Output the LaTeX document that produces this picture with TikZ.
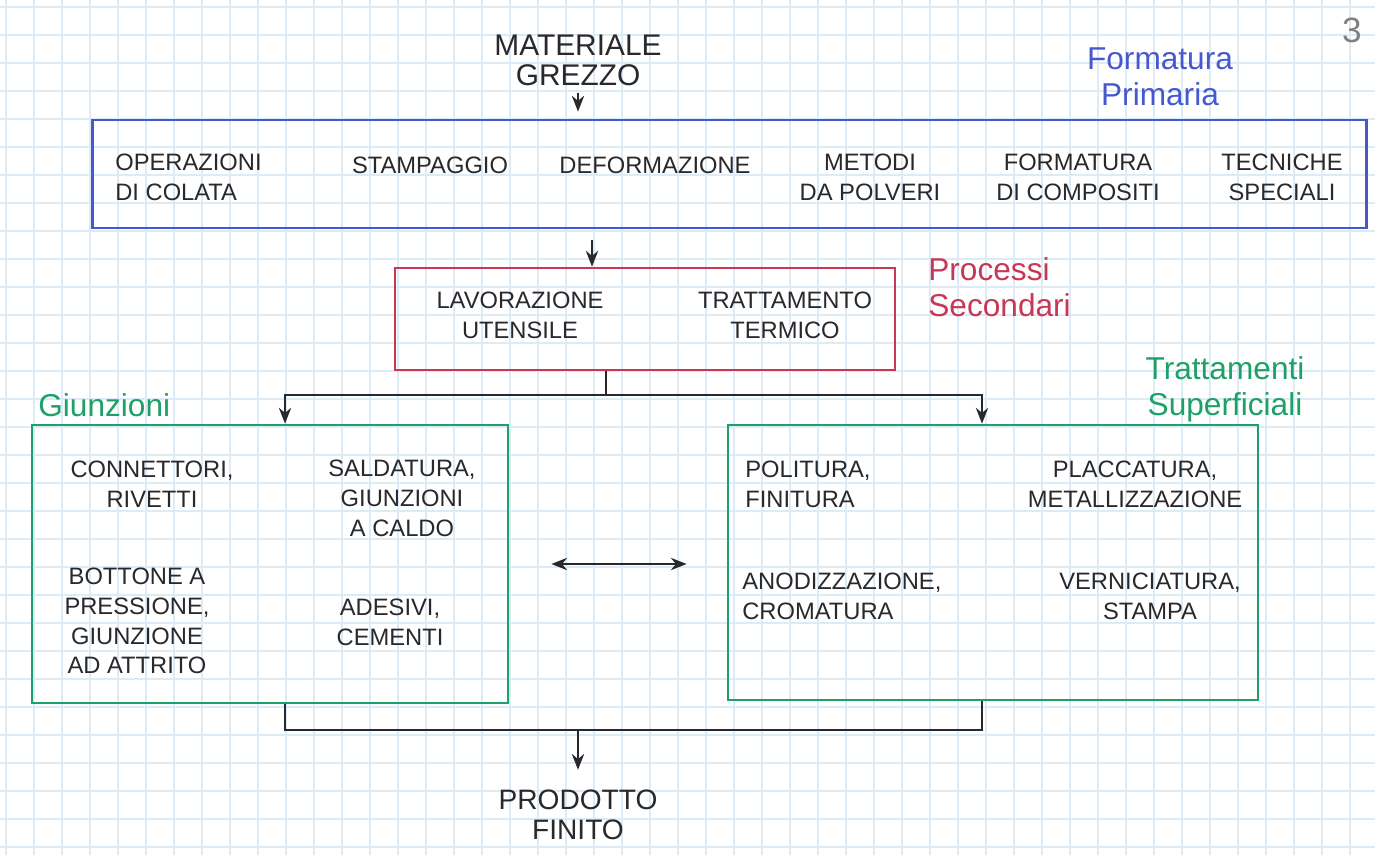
\documentclass[tikz,border=0pt]{standalone}
\usepackage{fontspec}
\setmainfont{Liberation Sans}
\usetikzlibrary{arrows.meta}

\definecolor{inchiostro}{RGB}{40,40,45}
\definecolor{blu}{RGB}{70,88,205}
\definecolor{rosso}{RGB}{200,55,85}
\definecolor{verde}{RGB}{30,160,105}
\definecolor{griglia}{RGB}{220,235,246}

\tikzset{
  voce/.style={text=inchiostro, align=center, inner sep=0pt,
    font=\fontsize{13.5}{17}\selectfont},
  titolo/.style={align=center, inner sep=0pt,
    font=\fontsize{18}{20.5}\selectfont},
  riquadro/.style={draw=#1, line width=1.6pt, inner sep=0pt},
  freccia/.style={draw=inchiostro, line width=1.2pt,
    -{Stealth[length=9pt,width=7pt]}},
  linea/.style={draw=inchiostro, line width=1.2pt},
}

\begin{document}
\begin{tikzpicture}[x=0.02cm, y=-0.02cm]
  \useasboundingbox (0,0) rectangle (1375,855);
  \fill[white] (0,0) rectangle (1375,855);
  % quadretti del foglio
  \foreach \x in {6,34,...,1375}
    \draw[griglia, line width=0.6pt] (\x,0) -- (\x,855);
  \foreach \y in {7,35,...,855}
    \draw[griglia, line width=0.6pt] (0,\y) -- (1375,\y);

  \node[text=gray, font=\fontsize{20}{20}\selectfont] (pagina) at (1352,30) {3};

  % materiale grezzo
  \node[voce, font=\fontsize{17}{17}\selectfont] (materiale) at (578,60) {MATERIALE\\GREZZO};

  % formatura primaria
  \node[titolo, text=blu] (tprimaria) at (1160,77) {Formatura\\Primaria};
  \node[riquadro=blu, minimum width=25.5cm, minimum height=2.16cm] (primaria) at (729.5,174) {};
  \node[voce, align=left, anchor=west] (colata) at (115,177) {OPERAZIONI\\DI COLATA};
  \node[voce] (stampaggio) at (430,165) {STAMPAGGIO};
  \node[voce] (deformazione) at (655,165) {DEFORMAZIONE};
  \node[voce] (polveri) at (870,177) {METODI\\DA POLVERI};
  \node[voce] (compositi) at (1078,177) {FORMATURA\\DI COMPOSITI};
  \node[voce] (speciali) at (1282,177) {TECNICHE\\SPECIALI};

  % processi secondari
  \node[titolo, text=rosso, align=left, anchor=west] (tsecondari) at (928,287) {Processi\\Secondari};
  \node[riquadro=rosso, minimum width=10cm, minimum height=2.04cm] (secondari) at (645,319) {};
  \node[voce] (lavorazione) at (520,315) {LAVORAZIONE\\UTENSILE};
  \node[voce] (termico) at (785,315) {TRATTAMENTO\\TERMICO};

  % giunzioni
  \node[titolo, text=verde, anchor=west] (tgiunzioni) at (38,405) {Giunzioni};
  \node[riquadro=verde, minimum width=9.52cm, minimum height=5.56cm] (giunzioni) at (270,564) {};
  \node[voce] (connettori) at (152,484) {CONNETTORI,\\RIVETTI};
  \node[voce] (saldatura) at (402,498) {SALDATURA,\\GIUNZIONI\\A CALDO};
  \node[voce] (bottone) at (137,621) {BOTTONE A\\PRESSIONE,\\GIUNZIONE\\AD ATTRITO};
  \node[voce] (adesivi) at (390,622) {ADESIVI,\\CEMENTI};

  % trattamenti superficiali
  \node[titolo, text=verde] (tsuperficiali) at (1225,389) {Trattamenti\\Superficiali};
  \node[riquadro=verde, minimum width=10.6cm, minimum height=5.5cm] (superficiali) at (993,562.5) {};
  \node[voce, align=left, anchor=west] (politura) at (745,484) {POLITURA,\\FINITURA};
  \node[voce] (placcatura) at (1135,484) {PLACCATURA,\\METALLIZZAZIONE};
  \node[voce, align=left, anchor=west] (anodizzazione) at (742,596) {ANODIZZAZIONE,\\CROMATURA};
  \node[voce] (verniciatura) at (1150,596) {VERNICIATURA,\\STAMPA};

  % prodotto finito
  \node[voce, font=\fontsize{16}{17}\selectfont] (prodotto) at (578,815) {PRODOTTO\\FINITO};

  % collegamenti
  \coordinate (discesa) at (592,240);
  \coordinate (bivio) at (606,395);
  \coordinate (sx) at (285,395);
  \coordinate (dx) at (982,395);
  \coordinate (raccolta) at (578,730);

  \draw[freccia, shorten <=4pt, shorten >=4pt] (materiale.south) -- (materiale.south |- primaria.north);
  \draw[freccia] (discesa) -- (discesa |- secondari.north);
  \draw[linea] (secondari.south -| bivio) -- (bivio);
  \draw[freccia] (bivio) -| (sx |- giunzioni.north);
  \draw[freccia] (bivio) -| (dx |- superficiali.north);
  \draw[freccia, {Stealth[length=9pt,width=7pt]}-{Stealth[length=9pt,width=7pt]}]
    ([xshift=0.84cm]giunzioni.east) -- ([xshift=-0.8cm]giunzioni.east -| superficiali.west);
  \draw[linea] (giunzioni.south -| sx) |- (raccolta) -| (superficiali.south -| dx);
  \draw[freccia, shorten >=0.4cm] (raccolta) -- (prodotto.north);
\end{tikzpicture}
\end{document}
